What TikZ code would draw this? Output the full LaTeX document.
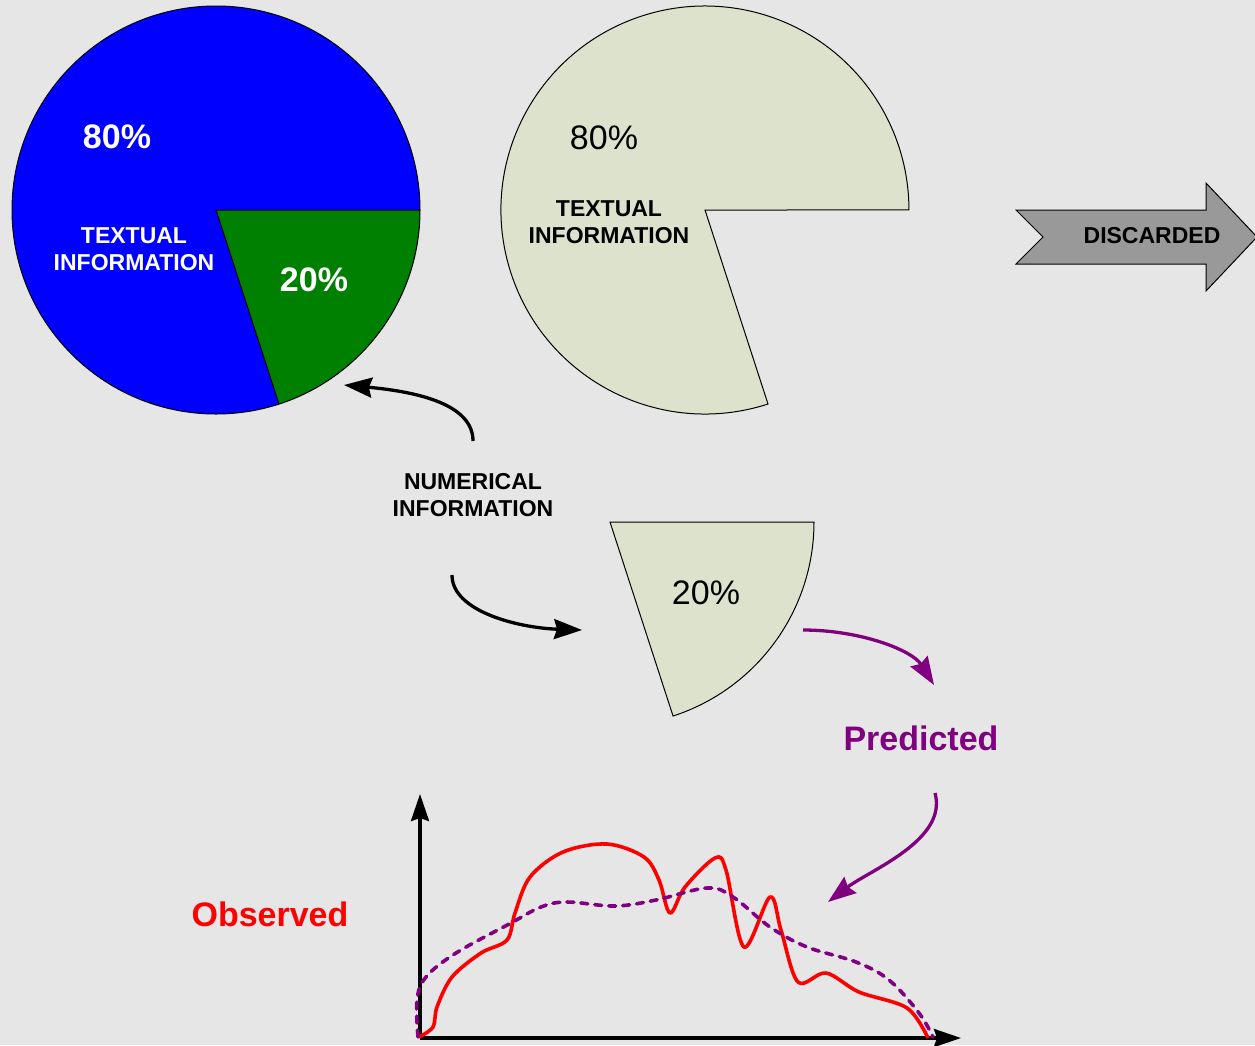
\documentclass[tikz,border=0pt]{standalone}
\usepackage{fontspec}
\setmainfont{Liberation Sans}
\usetikzlibrary{arrows.meta}
\definecolor{bgc}{RGB}{230,230,230}
\definecolor{khaki}{RGB}{221,226,204}
\definecolor{pblue}{RGB}{0,0,255}
\definecolor{pgreen}{RGB}{0,128,0}
\definecolor{purp}{RGB}{128,0,128}
\definecolor{grayarrow}{RGB}{153,153,153}
\tikzset{
  bigbold/.style={font=\fontsize{34}{40}\selectfont\bfseries, inner sep=0pt},
  bigreg/.style={font=\fontsize{34}{40}\selectfont, inner sep=0pt},
  smallbold/.style={font=\fontsize{23}{27}\selectfont\bfseries, align=center, inner sep=0pt},
  piefill/.style={draw=black, line width=1pt},
  curvearrow/.style={line width=3.3pt, -{Stealth[length=28pt,width=20pt,inset=3pt]}},
  axisarrow/.style={line width=3.3pt, -{Stealth[length=27pt,width=18pt,inset=3pt]}},
}
\begin{document}
\begin{tikzpicture}[x=1pt,y=-1pt]
\fill[bgc] (0,0) rectangle (1255,1045);
\useasboundingbox (0,0) rectangle (1255,1045);

% Pie 1
\fill[pblue] (216,210) circle[radius=204];
\fill[pgreen] (216,210) -- (420,210) arc[start angle=0, end angle=72, radius=204] -- cycle;
\draw[line width=1pt] (216,210) circle[radius=204];
\draw[line width=1pt] (420,210) -- (216,210) -- (279,404);
\node[bigbold, text=white] (p1a) at (117,137) {80\%};
\node[smallbold, text=white] (p1b) at (134,249) {TEXTUAL\\INFORMATION};
\node[bigbold, text=white] (p1c) at (314,280) {20\%};

% Pie 2
\filldraw[piefill, fill=khaki] (705,210) -- (768,404) arc[start angle=72, end angle=360, radius=204] -- cycle;
\node[bigreg] (p2a) at (604,138) {80\%};
\node[smallbold] (p2b) at (609,222) {TEXTUAL\\INFORMATION};

% Detached slice
\filldraw[piefill, fill=khaki] (610,522) -- (814,522) arc[start angle=0, end angle=72, radius=204] -- cycle;
\node[bigreg] (s20) at (706,593) {20\%};

% Discarded arrow
\filldraw[fill=grayarrow, draw=black, line width=1pt]
  (1016,210) -- (1206,210) -- (1206,183) -- (1257,237) -- (1206,291) -- (1206,264) -- (1016,264) -- (1043,237) -- cycle;
\node[smallbold] (disc) at (1152,236) {DISCARDED};

% Numerical information
\node[smallbold] (num) at (473,495) {NUMERICAL\\INFORMATION};
\coordinate (a1s) at (473,441);
\coordinate (a1e) at (344,385);
\coordinate (a2s) at (452,575);
\coordinate (a2e) at (582,630);
\draw[curvearrow] (a1s) .. controls (473,405) and (420,392) .. (a1e);
\draw[curvearrow] (a2s) .. controls (452,612) and (520,628) .. (a2e);

% Predicted
\node[bigbold, text=purp] (pred) at (921,738) {Predicted};
\coordinate (p1s) at (803,630);
\coordinate (p1e) at (934,685);
\coordinate (p2s) at (935,793);
\coordinate (p2e) at (828,902);
\draw[curvearrow, purp] (p1s) .. controls (860,630) and (912,650) .. (p1e);
\draw[curvearrow, purp] (p2s) .. controls (948,840) and (870,870) .. (p2e);

% Observed
\node[bigbold, text=red] (obs) at (270,914) {Observed};

% Axes
\coordinate (orig) at (420,1038);
\coordinate (ytip) at (420,794);
\coordinate (xtip) at (961,1038);
\draw[axisarrow] (orig) -- (ytip);
\draw[axisarrow] (orig) -- (xtip);

% Curves
\draw[red, line width=3.6pt, line join=round] plot[smooth, tension=0.55] coordinates {
(419,1037) (433,1027) (437,1007) (452,977) (481,953) (507,940) (515,913) (530,877)
(563,852) (607,844) (644,857) (659,880) (670,913) (685,887) (715,858) (726,870)
(744,947) (770,897) (781,930) (798,982) (826,973) (859,992) (907,1008) (928,1038)};
\draw[purp, line width=3.6pt, line cap=round, dash pattern=on 7pt off 7pt] plot[smooth, tension=0.6] coordinates {
(418,1037) (417,1000) (426,977) (456,953) (511,923) (541,907) (567,902) (615,906)
(656,900) (707,888) (733,897) (770,927) (807,947) (856,962) (889,980) (919,1013) (933,1037)};
\end{tikzpicture}
\end{document}
